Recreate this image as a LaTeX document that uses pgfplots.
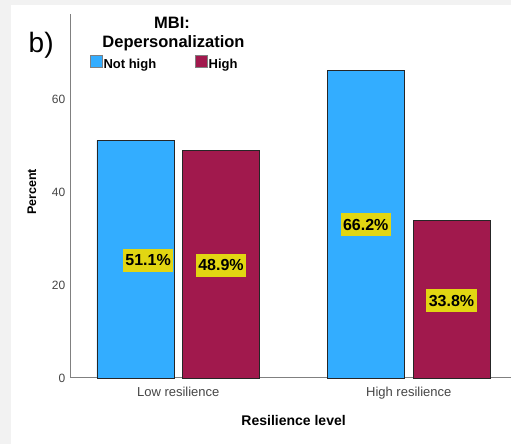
\documentclass[border=0pt]{standalone}
\usepackage{pgfplots}
\pgfplotsset{compat=1.18}
\usepackage{fontspec}
\setmainfont{Liberation Sans}
\definecolor{barblue}{RGB}{51,173,255}
\definecolor{barred}{RGB}{161,25,77}
\definecolor{lblyellow}{RGB}{226,214,18}
\definecolor{bggray}{RGB}{242,242,242}
\definecolor{axgray}{RGB}{128,128,128}
\definecolor{tickgray}{RGB}{70,70,70}
\begin{document}
\begin{tikzpicture}[x=1pt,y=1pt]
\fill[bggray] (0,0) rectangle (511,444);
\fill[white] (11,0) rectangle (511,439);
\useasboundingbox (0,0) rectangle (511,444);
\node[anchor=base west, inner sep=0pt, font=\fontsize{28}{30}\selectfont] at (28.5,391) {b)};
\node[anchor=base, inner sep=0pt, font=\bfseries\fontsize{16.5}{18}\selectfont] at (172,415.7) {MBI:};
\node[anchor=base, inner sep=0pt, font=\bfseries\fontsize{16.5}{18}\selectfont] at (173.5,396) {Depersonalization};
\begin{axis}[
  at={(70pt,66pt)}, anchor=south west,
  scale only axis, width=441pt, height=364pt,
  xmin=-0.4696, xmax=1.4436, ymin=0, ymax=78.3,
  axis x line*=bottom, axis y line*=left,
  axis line style={axgray, line width=1pt},
  major tick length=0pt,
  xtick={0,1}, xticklabels={Low resilience, High resilience},
  ytick={0,20,40,60},
  xticklabel style={font=\fontsize{13}{15}\selectfont, text=tickgray, anchor=base, yshift=-18.7pt},
  yticklabel style={font=\fontsize{12}{14}\selectfont, text=tickgray, inner sep=0pt, xshift=-4.5pt},
  /pgf/number format/assume math mode=true,
  xlabel={Resilience level}, ylabel={Percent},
  xlabel style={font=\bfseries\fontsize{14}{16}\selectfont, at={(axis description cs:0.507,-0.1154)}, anchor=center},
  ylabel style={font=\bfseries\fontsize{12.5}{14}\selectfont, at={(axis description cs:-0.0862,0.511)}, anchor=center},
  legend style={at={(axis description cs:0.0454,0.865)}, anchor=west, draw=none, fill=none,
    inner sep=0pt, outer sep=0pt, legend columns=2,
    font=\bfseries\fontsize{13}{15}\selectfont,
    /tikz/every even column/.append style={column sep=38pt},
    nodes={inner sep=1pt}},
  legend image code/.code={\draw[#1, draw=gray, line width=0.5pt] (0pt,-3pt) rectangle (12pt,9pt);},
  clip=false,
]
\addplot[ybar, bar width=77pt, bar shift=-42.75pt, fill=barblue, draw=black!85, line width=0.8pt]
  coordinates {(0,51.1) (1,66.2)};
\addlegendentry{Not high}
\addplot[ybar, bar width=77pt, bar shift=42.75pt, fill=barred, draw=black!85, line width=0.8pt]
  coordinates {(0,48.9) (1,33.8)};
\addlegendentry{High}
\addplot[forget plot, draw=none, mark=none, nodes near coords, point meta=explicit symbolic,
  every node near coord/.append style={anchor=center, fill=lblyellow, text=black,
    font=\bfseries\fontsize{16}{18}\selectfont, inner xsep=2.5pt, inner ysep=0pt, minimum height=23pt}]
  coordinates {(-0.131,25.28) [51.1\%] (0.1855,24.3) [48.9\%] (0.8135,32.95) [66.2\%] (1.1855,16.6) [33.8\%]};
\end{axis}
\end{tikzpicture}
\end{document}
